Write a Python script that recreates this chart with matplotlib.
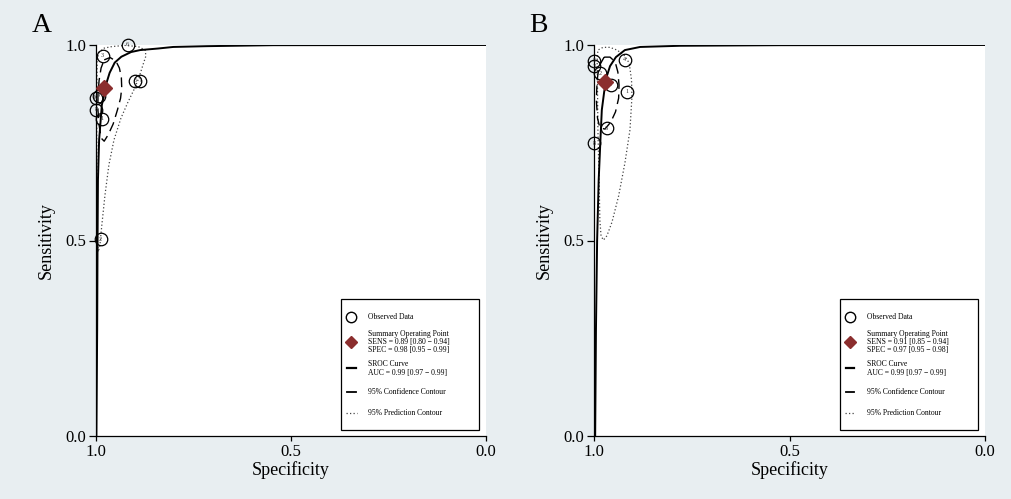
import matplotlib.pyplot as plt
from matplotlib.patches import Rectangle

plt.rcParams['font.family'] = ['Liberation Serif', 'DejaVu Serif']

BG = '#e8eef1'
RED = '#8b2e2e'

# ---- panel A data (specificity, sensitivity) ----
a_labels = ['6', '3', '5', '7', '10', '9', '8', '1', '2']
a_spec = [0.919, 0.983, 0.900, 0.887, 1.000, 0.993, 1.000, 0.985, 0.988]
a_sens = [1.000, 0.973, 0.909, 0.909, 0.865, 0.870, 0.834, 0.812, 0.503]
a_summary = (0.98, 0.89)
a_sroc_spec = [0.999, 0.997, 0.996, 0.995, 0.992, 0.988, 0.985, 0.979, 0.974, 0.965,
               0.952, 0.935, 0.910, 0.887, 0.841, 0.802, 0.716, 0.546, 0.0]
a_sroc_sens = [0.0, 0.271, 0.501, 0.655, 0.757, 0.808, 0.847, 0.872, 0.900, 0.929,
               0.955, 0.970, 0.982, 0.987, 0.991, 0.995, 0.997, 0.9995, 1.0]
a_conf_spec = [0.979, 0.964, 0.949, 0.940, 0.935, 0.934, 0.937, 0.945, 0.956, 0.969,
               0.979, 0.987, 0.992, 0.995, 0.995, 0.992, 0.987, 0.979]
a_conf_sens = [0.962, 0.968, 0.959, 0.941, 0.917, 0.890, 0.864, 0.834, 0.798, 0.770,
               0.754, 0.762, 0.795, 0.834, 0.872, 0.910, 0.941, 0.962]
a_pred_spec = [0.997, 0.992, 0.979, 0.959, 0.926, 0.892, 0.874, 0.872, 0.879, 0.890,
               0.903, 0.918, 0.936, 0.954, 0.967, 0.977, 0.985, 0.990, 0.994, 0.996,
               0.997, 0.998, 0.998, 0.997]
a_pred_sens = [0.962, 0.982, 0.992, 0.996, 0.999, 0.996, 0.987, 0.972, 0.951, 0.916,
               0.885, 0.854, 0.813, 0.757, 0.693, 0.616, 0.540, 0.488, 0.471, 0.488,
               0.552, 0.731, 0.859, 0.962]
a_sum_text = 'Summary Operating Point\nSENS = 0.89 [0.80 \u2212 0.94]\nSPEC = 0.98 [0.95 \u2212 0.99]'
a_auc_text = 'SROC Curve\nAUC = 0.99 [0.97 \u2212 0.99]'

# ---- panel B data ----
b_labels = ['1', '2', '3', '4', '5', '6', '7', '8']
b_spec = [0.916, 0.985, 1.000, 0.921, 1.000, 0.968, 0.957, 0.999]
b_sens = [0.881, 0.928, 0.946, 0.962, 0.960, 0.787, 0.898, 0.749]
b_summary = (0.972, 0.906)
b_sroc_spec = [0.997, 0.995, 0.992, 0.988, 0.983, 0.980, 0.974, 0.967, 0.959, 0.944,
               0.921, 0.882, 0.780, 0.524, 0.0]
b_sroc_sens = [0.0, 0.271, 0.501, 0.655, 0.770, 0.834, 0.880, 0.921, 0.946, 0.969,
               0.987, 0.995, 0.998, 0.9995, 1.0]
b_conf_spec = [0.974, 0.959, 0.946, 0.939, 0.936, 0.937, 0.945, 0.957, 0.972, 0.985,
               0.991, 0.994, 0.992, 0.987, 0.974]
b_conf_sens = [0.969, 0.969, 0.957, 0.931, 0.898, 0.864, 0.829, 0.803, 0.785, 0.788,
               0.813, 0.859, 0.910, 0.946, 0.969]
b_pred_spec = [0.992, 0.990, 0.977, 0.959, 0.941, 0.923, 0.910, 0.904, 0.903, 0.908,
               0.921, 0.937, 0.954, 0.967, 0.976, 0.982, 0.985, 0.987, 0.990, 0.991, 0.992]
b_pred_sens = [0.962, 0.987, 0.994, 0.994, 0.987, 0.974, 0.954, 0.910, 0.867, 0.783,
               0.698, 0.614, 0.547, 0.512, 0.501, 0.512, 0.552, 0.655, 0.783, 0.885, 0.962]
b_sum_text = 'Summary Operating Point\nSENS = 0.91 [0.85 \u2212 0.94]\nSPEC = 0.97 [0.95 \u2212 0.98]'
b_auc_text = 'SROC Curve\nAUC = 0.99 [0.97 \u2212 0.99]'

ticks = [0.0, 0.5, 1.0]
tick_labels = ['0.0', '0.5', '1.0']

DOTS = (0, (1.0, 1.8))
DASH = (0, (7, 4))

# legend key rows, top to bottom (axes fraction)
key_rows = [0.305, 0.240, 0.173, 0.113, 0.060]


def draw_key(ax, sum_text, auc_text):
    tr = ax.transAxes
    ax.add_patch(Rectangle((0.628, 0.0153), 0.354, 0.335, transform=tr, fc='white',
                           ec='black', lw=0.9, zorder=6))
    hx, tx = 0.655, 0.697
    y = key_rows
    ax.plot([hx], [y[0]], transform=tr, ls='none', marker='o', ms=7.5, mfc='none',
            mec='black', mew=1.0, zorder=7)
    ax.plot([hx], [y[1]], transform=tr, ls='none', marker='D', ms=6.2, color=RED, zorder=7)
    ax.plot([hx - 0.011, hx + 0.011], [y[2], y[2]], transform=tr, color='black', lw=1.6, zorder=7)
    ax.plot([hx - 0.011, hx + 0.011], [y[3], y[3]], transform=tr, color='black', lw=1.3, zorder=7)
    ax.plot([hx - 0.013, hx + 0.013], [y[4], y[4]], transform=tr, color='#444444', lw=0.9,
            ls=DOTS, zorder=7)
    texts = ['Observed Data', sum_text, auc_text, '95% Confidence Contour',
             '95% Prediction Contour']
    for t, yy in zip(texts, y):
        ax.text(tx, yy, t, transform=tr, fontsize=5.5, ha='left', va='center',
                linespacing=1.05, zorder=7)


def draw_panel(ax, letter, labels, spec, sens, summary, sroc, conf, pred, sum_text, auc_text):
    ax.set_facecolor('white')
    ax.plot(pred[0], pred[1], color='#444444', lw=0.9, ls=DOTS, zorder=2)
    ax.plot(conf[0], conf[1], color='black', lw=1.0, ls=DASH, zorder=2)
    ax.plot(sroc[0], sroc[1], color='black', lw=1.4, zorder=3)
    ax.plot(spec, sens, ls='none', marker='o', ms=9, mfc='none', mec='black',
            mew=0.9, clip_on=False, zorder=4)
    for lab, x, y in zip(labels, spec, sens):
        ax.text(x, y, lab, fontsize=4.5, ha='center', va='center', color='#333333', zorder=4)
    ax.plot([summary[0]], [summary[1]], ls='none', marker='D', ms=8, color=RED,
            clip_on=False, zorder=5)

    ax.set_xlim(1.0, 0.0)
    ax.set_ylim(0.0, 1.0)
    ax.set_xticks(ticks)
    ax.set_xticklabels(tick_labels)
    ax.set_yticks(ticks)
    ax.set_yticklabels(tick_labels)
    for s in ['top', 'right']:
        ax.spines[s].set_visible(False)
    for s in ['left', 'bottom']:
        ax.spines[s].set_linewidth(0.9)
    ax.tick_params(direction='out', width=0.9, labelsize=12, pad=2)
    ax.tick_params(axis='y', length=5)
    ax.tick_params(axis='x', length=3.5)
    ax.set_xlabel('Specificity', fontsize=13, labelpad=1)
    ax.set_ylabel('Sensitivity', fontsize=13, labelpad=8)

    draw_key(ax, sum_text, auc_text)
    ax.text(-0.165, 1.033, letter, transform=ax.transAxes, fontsize=20,
            ha='left', va='baseline')


fig = plt.figure(figsize=(10.11, 4.99), dpi=100, facecolor=BG)
ax_a = fig.add_axes([96 / 1011, 63 / 499, 390 / 1011, 391 / 499])
ax_b = fig.add_axes([594 / 1011, 63 / 499, 391 / 1011, 391 / 499])

draw_panel(ax_a, 'A', a_labels, a_spec, a_sens, a_summary,
           (a_sroc_spec, a_sroc_sens), (a_conf_spec, a_conf_sens),
           (a_pred_spec, a_pred_sens), a_sum_text, a_auc_text)
draw_panel(ax_b, 'B', b_labels, b_spec, b_sens, b_summary,
           (b_sroc_spec, b_sroc_sens), (b_conf_spec, b_conf_sens),
           (b_pred_spec, b_pred_sens), b_sum_text, b_auc_text)

fig.savefig('out.png', dpi=100, facecolor=BG)
